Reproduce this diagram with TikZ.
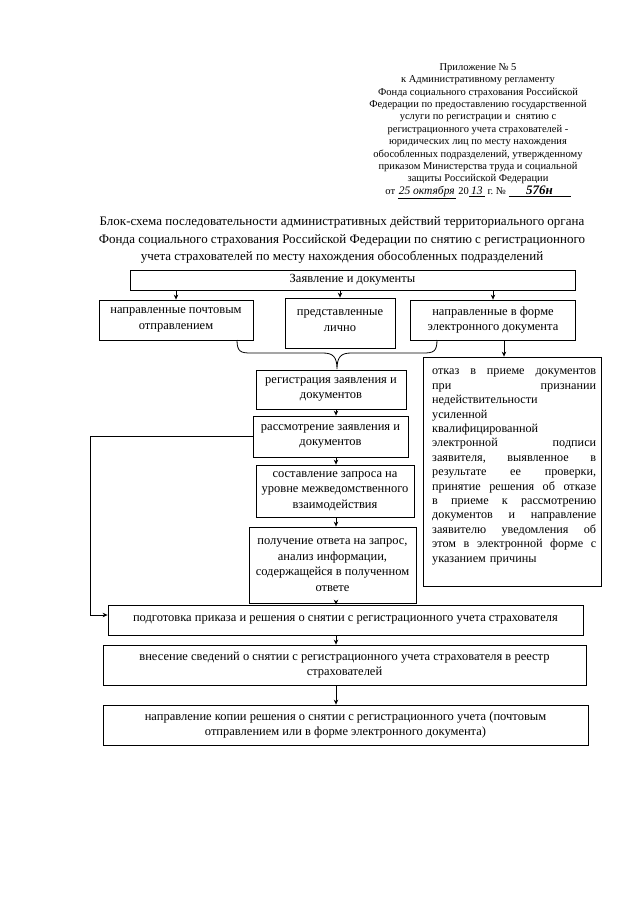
\documentclass[tikz,border=0pt]{standalone}
\usepackage{fontspec}
\setmainfont{Liberation Serif}
\usetikzlibrary{arrows.meta}

\begin{document}
\begin{tikzpicture}[x=1pt,y=-1pt,
  blok/.style={draw,line width=0.8pt,align=center,inner sep=1pt,font=\fontsize{12.5}{15.6}\selectfont},
  strelka/.style={-{Stealth[length=5pt,width=4.5pt]},line width=0.8pt}]
  \useasboundingbox (0,0) rectangle (640,905);

  % шапка и заголовок
  \node[align=center,font=\fontsize{10.5}{12.4}\selectfont] (shapka) at (478,131) {Приложение № 5\\
    к Административному регламенту\\
    Фонда социального страхования Российской\\
    Федерации по предоставлению государственной\\
    услуги по регистрации и~ снятию с\\
    регистрационного учета страхователей -\\
    юридических лиц по месту нахождения\\
    обособленных подразделений, утвержденному\\
    приказом Министерства труда и социальной\\
    защиты Российской Федерации\\
    от\ \underline{\makebox[58pt]{\fontsize{11.5}{12}\selectfont\textit{25 октября}}}\ 20\underline{\makebox[16pt]{\fontsize{11.5}{12}\selectfont\textit{13}}}\ г.~№\ \underline{\makebox[62pt]{\fontsize{13}{13}\selectfont\textit{\textbf{576н}}}}};
  \node[align=center,font=\fontsize{13}{17.3}\selectfont] (zagolovok) at (342,240) {Блок-схема последовательности административных действий территориального органа\\
    Фонда социального страхования Российской Федерации по снятию с регистрационного\\
    учета страхователей по месту нахождения обособленных подразделений};

  % блоки
  \node[blok,minimum width=445pt,minimum height=20pt] (zayav) at (352.5,280) {Заявление и документы};
  \node[blok,minimum width=154pt,minimum height=40pt] (pocht) at (176,320) {направленные почтовым\\отправлением};
  \node[blok,minimum width=110pt,minimum height=50pt] (lichno) at (340,323) {представленные\\лично\strut};
  \node[blok,minimum width=165pt,minimum height=40pt] (elektr) at (493,320) {направленные в форме\\электронного документа};
  \node[blok,minimum width=150pt,minimum height=39pt] (reg) at (331,389.5) {регистрация заявления и\\документов};
  \node[blok,minimum width=155pt,minimum height=41pt] (rassm) at (330.5,436.5) {рассмотрение заявления и\\документов};
  \node[blok,minimum width=158pt,minimum height=52pt] (zapros) at (335,491) {составление запроса на\\уровне межведомственного\\взаимодействия};
  \node[blok,minimum width=167pt,minimum height=76pt] (otvet) at (332.5,565) {получение ответа на запрос,\\анализ информации,\\содержащейся в полученном\\ответе};
  \node[blok,minimum width=475pt,minimum height=30pt] (prikaz) at (345.5,620) {подготовка приказа и решения о снятии с регистрационного учета страхователя};
  \node[blok,minimum width=483pt,minimum height=40pt] (reestr) at (344.5,665) {внесение сведений о снятии с регистрационного учета страхователя в реестр\\страхователей};
  \node[blok,minimum width=485pt,minimum height=40pt] (kopiya) at (345.5,725) {направление копии решения о снятии с регистрационного учета (почтовым\\отправлением или в форме электронного документа)};
  \node[blok,minimum width=178pt,minimum height=229pt] (otkaz) at (512,471.5) {};
  \node[anchor=north west,align=left,text width=164pt,inner sep=0pt,font=\fontsize{12.2}{14.4}\selectfont] (otkaztekst) at (432,369) {отказ\hfill в\hfill приеме\hfill документов\\
    при\hfill признании\\
    недействительности\\
    усиленной\\
    квалифицированной\\
    электронной\hfill подписи\\
    заявителя,\hfill выявленное\hfill в\\
    результате\hfill ее\hfill проверки,\\
    принятие\hfill решения\hfill об\hfill отказе\\
    в\hfill приеме\hfill к\hfill рассмотрению\\
    документов\hfill и\hfill направление\\
    заявителю\hfill уведомления\hfill об\\
    этом\hfill в\hfill электронной\hfill форме\hfill с\\
    указанием причины};

  % стрелки
  \coordinate (os) at (336,0);
  \coordinate (petlya) at (90,0);
  \draw[strelka] (zayav.south -| pocht.north) -- (pocht.north);
  \draw[strelka] (zayav.south -| lichno.north) -- (lichno.north);
  \draw[strelka] (zayav.south -| elektr.north) -- (elektr.north);
  \draw[strelka] ([xshift=11pt]elektr.south) -- ([xshift=11pt]elektr.south |- otkaz.north);
  \draw[line width=0.8pt] (237,340) .. controls (237,352) and (241,353) .. (251,353) -- (323,353)
    .. controls (333,353) and (337,357) .. (337,369)
    .. controls (337,357) and (341,353) .. (351,353) -- (423,353)
    .. controls (433,353) and (437,352) .. (437,340);
  \draw[strelka] (reg.south -| os) -- (rassm.north -| os);
  \draw[strelka] (rassm.south -| os) -- (zapros.north -| os);
  \draw[strelka] (zapros.south -| os) -- (otvet.north -| os);
  \draw[strelka] (otvet.south -| os) -- (prikaz.north -| os);
  \draw[strelka] (prikaz.south -| os) -- (reestr.north -| os);
  \draw[strelka] (reestr.south -| os) -- (kopiya.north -| os);
  \draw[strelka] (rassm.west) -- (rassm.west -| petlya) |- ([yshift=5pt]prikaz.west);
\end{tikzpicture}
\end{document}
